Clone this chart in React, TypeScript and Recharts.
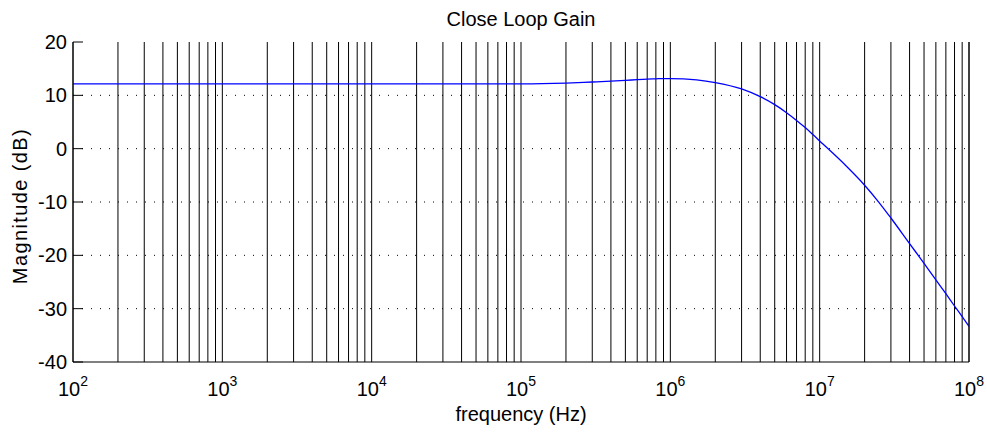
import React from 'react'
import {
  LineChart,
  Line,
  XAxis,
  YAxis,
  ReferenceLine,
} from 'recharts'

// closed-loop magnitude response, read at 1..9 points per decade
const freqHz = [
  1e2, 1e3, 1e4, 1e5, 2e5, 3e5, 4e5, 5e5, 6e5, 7e5, 8e5, 9e5, 1e6, 1.5e6, 2e6, 3e6,
  4e6, 5e6, 6e6, 7e6, 8e6, 9e6, 1e7, 1.5e7, 2e7, 2.5e7, 3e7, 4e7, 5e7, 6e7, 7e7, 8e7, 9e7,
  1e8,
]
const gainDb = [
  12.15, 12.15, 12.15, 12.15, 12.3, 12.5, 12.65, 12.8, 12.95, 13.05, 13.1, 13.15, 13.15, 12.9,
  12.4, 11.2, 9.75, 8.25, 6.75, 5.3, 3.95, 2.65, 1.45, -3.2, -6.85, -10.1, -13.0, -17.8, -21.5,
  -24.6, -27.2, -29.5, -31.5, -33.3,
]

const decadeTicks = [1e2, 1e3, 1e4, 1e5, 1e6, 1e7, 1e8]
const minorSteps = [1, 2, 3, 4, 5, 6, 7, 8, 9]
const yTicks = [-40, -30, -20, -10, 0, 10, 20]
const yDotted = [-30, -20, -10, 0, 10]

const chartData = freqHz.map((f, i) => ({ f, db: gainDb[i] }))
const gridFreqs = decadeTicks
  .slice(0, -1)
  .flatMap((d) => minorSteps.map((m) => d * m))
  .concat([1e8])

const FONT = '"Liberation Sans", Arial, Helvetica, sans-serif'
const W = 987
const H = 432

function DecadeTick(props: any) {
  const { x, y, payload } = props
  const exp = Math.round(Math.log10(payload.value))
  return (
    <text x={x} y={y + 34} textAnchor="middle" fontFamily={FONT} fontSize={20} fill="#000">
      10
      <tspan dy={-10} fontSize={14}>
        {exp}
      </tspan>
    </text>
  )
}

function LeftTick(props: any) {
  const { x, y, payload } = props
  const axisX = x + 6
  return (
    <g>
      <line x1={axisX} x2={axisX + 10} y1={y} y2={y} stroke="#000" />
      <text x={x} y={y} dy={7} textAnchor="end" fontFamily={FONT} fontSize={20} fill="#000">
        {payload.value}
      </text>
    </g>
  )
}

function RightTick(props: any) {
  const { x, y } = props
  return <line x1={x - 10} x2={x} y1={y} y2={y} stroke="#000" />
}

export default function App() {
  return (
    <div style={{ position: 'absolute', left: 0, top: 0, width: W, height: H, background: '#fff' }}>
      <LineChart
        width={W}
        height={H}
        data={chartData}
        margin={{ top: 42, right: 0, bottom: 30, left: 13 }}
      >
        <XAxis
          dataKey="f"
          type="number"
          scale="log"
          domain={[1e2, 1e8]}
          ticks={decadeTicks}
          allowDataOverflow
          height={40}
          tickSize={0}
          tickMargin={0}
          tickLine={false}
          axisLine={{ stroke: '#000' }}
          tick={<DecadeTick />}
          interval={0}
        />
        <XAxis
          xAxisId="top"
          orientation="top"
          dataKey="f"
          type="number"
          scale="log"
          domain={[1e2, 1e8]}
          allowDataOverflow
          height={0}
          tick={false}
          tickLine={false}
          axisLine={{ stroke: '#000' }}
        />
        <YAxis
          type="number"
          domain={[-40, 20]}
          ticks={yTicks}
          width={60}
          tickSize={0}
          tickMargin={6}
          tickLine={false}
          axisLine={{ stroke: '#000' }}
          tick={<LeftTick />}
          interval={0}
        />
        <YAxis
          yAxisId="right"
          orientation="right"
          type="number"
          domain={[-40, 20]}
          ticks={yTicks}
          width={18}
          tickSize={0}
          tickMargin={0}
          tickLine={false}
          axisLine={{ stroke: '#000' }}
          tick={<RightTick />}
          interval={0}
        />
        {gridFreqs.map((f) => (
          <ReferenceLine key={'v' + f} x={f} stroke="#000" strokeWidth={1} />
        ))}
        {yDotted.map((v) => (
          <ReferenceLine key={'h' + v} y={v} stroke="#000" strokeDasharray="1 8" />
        ))}
        <Line
          type="monotone"
          dataKey="db"
          stroke="#0000ff"
          strokeWidth={1.3}
          dot={false}
          isAnimationActive={false}
        />
      </LineChart>
      <svg
        width={W}
        height={H}
        style={{ position: 'absolute', left: 0, top: 0, pointerEvents: 'none' }}
      >
        <text x={521} y={26} textAnchor="middle" fontFamily={FONT} fontSize={20} fill="#000">
          Close Loop Gain
        </text>
        <text x={521} y={421} textAnchor="middle" fontFamily={FONT} fontSize={20} fill="#000">
          frequency (Hz)
        </text>
        <text
          transform="translate(27,206) rotate(-90)"
          textAnchor="middle"
          fontFamily={FONT}
          fontSize={20}
          letterSpacing={1.4}
          fill="#000"
        >
          Magnitude (dB)
        </text>
      </svg>
    </div>
  )
}
